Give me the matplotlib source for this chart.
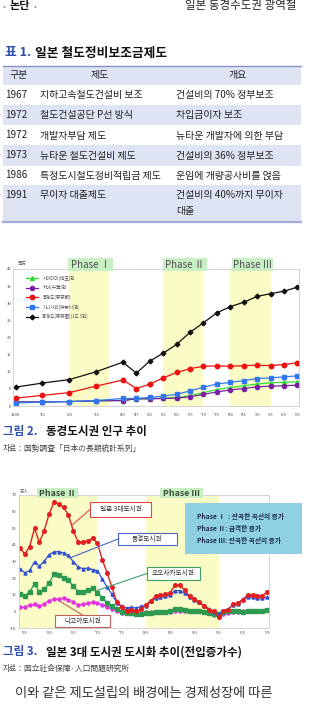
import matplotlib.pyplot as plt
from matplotlib.patches import Rectangle, ConnectionPatch
from matplotlib.lines import Line2D

plt.rcParams['font.family'] = ['Noto Sans CJK KR', 'DejaVu Sans']

W, H = 309, 706

# ---- table 1 data
tbl_header = ['구분', '제도', '개요']
tbl_years = ['1967', '1972', '1972', '1973', '1986', '1991']
tbl_systems = ['지하고속철도건설비 보조', '철도건설공단 P선 방식', '개발자부담 제도',
               '뉴타운 철도건설비 제도', '특정도시철도정비적립금 제도', '무이자 대출제도']
tbl_summary = ['건설비의 70% 정부보조', '차입금이자 보조', '뉴타운 개발자에 의한 부담',
               '건설비의 36% 정부보조', '운임에 개량공사비를 얹음', '건설비의 40%까지 무이자']
tbl_summary_cont = '대출'

# ---- figure 2 data (population, millions)
pop_ticks = ['1900', "'10", "'20", "'30", "'40", "'47", "'50", "'55", "'60", "'65",
             "'70", "'75", "'80", "'85", "'90", "'95", "'00", "'05"]
pop_slots = [0, 2, 4, 6, 8, 9, 10, 11, 12, 13, 14, 15, 16, 17, 18, 19, 20, 21]
pop_metro = [5.5, 6.7, 7.7, 10.0, 12.8, 9.6, 13.1, 15.4, 18.0, 21.5, 24.3, 27.2, 29.0, 30.3, 32.0, 32.8, 33.5, 34.7]
pop_tokyo = [2.3, 3.1, 3.9, 5.8, 7.6, 5.1, 6.4, 8.2, 9.8, 10.9, 11.6, 11.7, 11.6, 11.8, 11.9, 11.8, 12.1, 12.6]
pop_kanagawa = [0.9, 1.1, 1.3, 1.6, 2.2, 2.2, 2.5, 2.9, 3.4, 4.4, 5.5, 6.4, 6.9, 7.4, 8.0, 8.2, 8.5, 8.8]
pop_saitama = [1.2, 1.2, 1.3, 1.5, 1.6, 2.1, 2.1, 2.3, 2.4, 3.0, 3.9, 4.8, 5.4, 5.9, 6.4, 6.8, 6.9, 7.1]
pop_chiba = [1.2, 1.2, 1.3, 1.5, 1.6, 2.1, 2.1, 2.2, 2.3, 2.7, 3.4, 4.1, 4.7, 5.1, 5.6, 5.8, 5.9, 6.1]
pop_legend = ['사이타마(埼玉)현', '치바(千葉)현', '동경도(東京都)', '가나가와(神奈川)현', '동경도(東京圏)(1도 3현)']
pop_phases = [(4, 7), (11, 14), (16, 19)]
pop_phase_names = ['Phase Ⅰ', 'Phase Ⅱ', 'Phase Ⅲ']

# ---- figure 3 data (net in-migration, 10k persons)
mig_years = list(range(1954, 2006))
mig_three = [38, 34.5, 39, 50, 41.5, 48.5, 58.5, 65.5, 64.7, 62.5, 58, 48.5, 41.7, 41.5, 42.5, 44, 41,
             31, 23, 14.5, 5.5, 2.5, 0.5, 1, 0, 1.5, 4, 6.5, 9, 9.8, 10.2, 11.2, 15.8, 15.8, 12.6, 9.2,
             7.2, 5.6, 3.2, 1, 0, -3.5, 0, 1, 4.5, 5, 7, 9.8, 9.8, 9.5, 9.2, 11.8]
mig_tokyo = [25.6, 23.2, 24.6, 29.8, 27.1, 30.1, 34.1, 35.7, 36, 35.1, 33.7, 29.8, 26.8, 25.7, 26.1, 25.1, 24.5,
             19.2, 14.6, 10.2, 5.2, 3.2, 2, 2.5, 2, 3, 3.5, 6, 8, 8.5, 9, 10, 12.5, 12.5, 11, 8.5,
             7, 5.5, 3.5, 1.5, -0.5, -1.5, 0.5, 1.5, 4, 4.5, 7.5, 8.5, 8.5, 8, 8, 8.5]
mig_osaka = [10.2, 9.2, 11.8, 16.6, 11.8, 13.2, 17.2, 22.2, 21.8, 19.8, 18.6, 15.2, 11.8, 11.8, 12.6, 13.8, 11.2,
             8.2, 5.2, 3.2, 1.2, -0.5, -1, -1, -1.5, -1.5, -1, -1, -0.5, -0.5, -0.5, 0, 1.5, 1.5, 1, 0.5,
             0, 0, -0.5, -1, -1.5, -1.5, -0.5, 0, 0, 0, -0.5, 0, 0, 0.5, 0.5, 1]
mig_nagoya = [2.6, 2.5, 3.8, 4.2, 3.0, 4.5, 6.5, 7.2, 7.4, 8.0, 7.0, 5.5, 4.0, 4.2, 4.8, 5.5, 5.2,
              4.0, 2.5, 1.5, 0.2, -1, -1, -1, -1, -0.8, -0.5, -0.3, -0.5, -0.5, -0.5, -0.3, 0, 0.2, 0.3, 0.3,
              0.2, 0, -0.5, -1, -2, -2.5, -1.5, -0.8, -0.5, -0.2, 0, 0.2, 0.2, 0.3, 0.5, 0.8]
mig_phases = [(1950, 1970), (1980, 1995)]
mig_ticks = list(range(1955, 2006, 5))
mig_tick_labels = ["'55", "'60", "'65", "'70", "'75", "'80", "'85", "'90", "'95", "'00", "'05"]
info_lines = ['Phase Ⅰ  : 완곡한 곡선의 증가', 'Phase Ⅱ: 급격한 증가', 'Phase Ⅲ: 완곡한 곡선의 증가']

fig = plt.figure(figsize=(W / 100, H / 100), dpi=100)


def ftext(x, y, s, **kw):
    kw.setdefault('va', 'center')
    return fig.text(x / W, 1 - y / H, s, **kw)


def frect(x0, y0, x1, y1, **kw):
    r = Rectangle((x0 / W, 1 - y1 / H), (x1 - x0) / W, (y1 - y0) / H,
                  transform=fig.transFigure, **kw)
    fig.add_artist(r)


def fline(x0, x1, y, **kw):
    fig.add_artist(Line2D([x0 / W, x1 / W], [1 - y / H] * 2, transform=fig.transFigure, **kw))


# header
ftext(3, 6, '•', color='#999999', fontsize=6)
ftext(10, 6, '논단', color='#111111', fontsize=8, weight='bold')
ftext(34, 6, '•', color='#999999', fontsize=6)
ftext(185, 6, '일본 동경수도권 광역철', color='#222222', fontsize=8.3)

# table 1
ftext(5, 53, '표 1.', color='#2f4fae', fontsize=9.2, weight='bold')
ftext(35, 53, '일본 철도정비보조금제도', color='#111111', fontsize=9.2, weight='bold')
band = '#dfe4f4'
frect(3, 66, 301, 85, fc=band, ec='none')
for y0, y1 in [(105, 125), (145, 166), (185, 222)]:
    frect(3, y0, 301, y1, fc=band, ec='none')
fline(3, 301, 65.8, color='#8790c4', lw=1.0)
fline(3, 301, 222, color='#a3abdc', lw=1.6)
ftext(19, 75, tbl_header[0], ha='center', fontsize=7.2, color='#222222')
ftext(100, 75, tbl_header[1], ha='center', fontsize=7.2, color='#222222')
ftext(238, 75, tbl_header[2], ha='center', fontsize=7.2, color='#222222')
row_y = [95, 115, 135.5, 155.5, 175.5, 195]
for y, yr, sy, sm in zip(row_y, tbl_years, tbl_systems, tbl_summary):
    ftext(5, y, yr, fontsize=7.2, color='#222222')
    ftext(40, y, sy, fontsize=7.2, color='#222222')
    ftext(176, y, sm, fontsize=7.2, color='#222222')
ftext(176, 211, tbl_summary_cont, fontsize=7.2, color='#222222')

# ---- figure 2
ax2 = fig.add_axes([13 / W, 1 - 406 / H, 286 / W, 137 / H])
for a, b in pop_phases:
    ax2.axvspan(a, b, color='#fbfbc6', lw=0, zorder=0)
l_sai, = ax2.plot(pop_slots, pop_saitama, color='#33dd33', marker='^', ms=2.8, lw=0.9)
l_chi, = ax2.plot(pop_slots, pop_chiba, color='#7a1fa0', marker='o', ms=3, lw=0.9)
l_kan, = ax2.plot(pop_slots, pop_kanagawa, color='#3377ee', marker='s', ms=2.8, lw=0.9)
l_tok, = ax2.plot(pop_slots, pop_tokyo, color='#ee1111', marker='o', ms=3.2, lw=0.9)
l_met, = ax2.plot(pop_slots, pop_metro, color='#111111', marker='D', ms=2.4, lw=0.9)
ax2.set_xlim(-0.19, 21.12)
ax2.set_ylim(0, 40)
ax2.set_xticks(pop_slots)
ax2.set_xticklabels(pop_ticks, fontsize=3.0, color='#444444')
ax2.set_yticks(range(0, 41, 5))
ax2.set_yticklabels([str(v) for v in range(0, 41, 5)], fontsize=3.0, color='#444444')
ax2.tick_params(length=0, pad=1.2)
ax2.tick_params(axis='x', pad=5)
for s in ax2.spines.values():
    s.set_color('#cccccc')
    s.set_linewidth(0.6)
leg = ax2.legend([l_sai, l_chi, l_tok, l_kan, l_met], pop_legend, loc='upper left',
                 bbox_to_anchor=(13 / 286, 0.955), frameon=False, fontsize=3.2,
                 handlelength=2.8, handletextpad=0.9, labelspacing=0.95,
                 borderpad=0, borderaxespad=0)
for t in leg.get_texts():
    t.set_color('#555555')
ftext(18, 263, '百万', fontsize=3.2, color='#555555')
for (x0, x1), name in zip([(68, 113), (163, 207), (232, 273)], pop_phase_names):
    frect(x0, 258, x1, 271, fc='#c9efc4', ec='none', zorder=5)
    ftext((x0 + x1) / 2, 264.5, name, ha='center', fontsize=7, color='#505050', zorder=6)

ftext(3, 432, '그림 2.', color='#2f4fae', fontsize=8.3, weight='bold')
ftext(46, 432, '동경도시권 인구 추이', color='#111111', fontsize=8.3, weight='bold')
ftext(3, 449, '자료：国勢調査「日本の長期統計系列」', color='#444444', fontsize=5.6)

# ---- figure 3
ax3 = fig.add_axes([19 / W, 1 - 628 / H, 249.5 / W, 133 / H])
for a, b in mig_phases:
    ax3.axvspan(a, b, color='#fbfbc6', lw=0, zorder=0)
ax3.plot(mig_years, mig_nagoya, color='#e030e0', marker='o', ms=2.2, lw=0.9)
ax3.plot(mig_years, mig_osaka, color='#2e9a50', marker='s', ms=2.2, lw=0.9)
ax3.plot(mig_years, mig_tokyo, color='#3050d0', marker='^', ms=2.2, lw=0.9)
ax3.plot(mig_years, mig_three, color='#e02020', marker='o', ms=2.6, lw=1.0)
ax3.set_xlim(1953.8, 2005.3)
ax3.set_ylim(-10, 70)
ax3.set_xticks(mig_ticks)
ax3.set_xticklabels(mig_tick_labels, fontsize=3.0, color='#444444')
ax3.set_yticks(range(-10, 71, 10))
ax3.set_yticklabels([str(v) for v in range(-10, 71, 10)], fontsize=3.0, color='#444444')
ax3.tick_params(length=0, pad=2)
for s in ax3.spines.values():
    s.set_color('#cccccc')
    s.set_linewidth(0.6)
ftext(20, 491, '万人', fontsize=3.2, color='#555555')
for (x0, x1), name in zip([(37, 78), (160, 203)], ['Phase Ⅱ', 'Phase Ⅲ']):
    frect(x0, 488, x1, 498, fc='#c9efc4', ec='none', zorder=5)
    ftext((x0 + x1) / 2, 493, name, ha='center', fontsize=6.3, color='#3d4d3d',
          weight='bold', zorder=6)

# callout boxes: (label, box, edge colour, data point)
callouts = [
    ('일본 3대도시권', (90, 502, 151, 517), '#e04848', (1964.8, 52)),
    ('동경도시권', (118, 533, 177, 545), '#4a64c8', (1964.2, 32)),
    ('오오사카도시권', (147, 567, 200, 580), '#3fa066', (1969.9, 12.6)),
    ('나고야도시권', (55, 615, 110, 627), '#c06060', (1962.4, 5.8)),
]
for text, (x0, y0, x1, y1), ec, (xd, yd) in callouts:
    bx = x0 if xd < 1970.5 and x0 > 80 else (x0 + x1) / 2
    by = (y0 + y1) / 2 if x0 > 80 else y0
    cp = ConnectionPatch(xyA=(xd, yd), coordsA=ax3.transData, xyB=(bx, H - by),
                         coordsB='figure pixels', color=ec, lw=0.8, zorder=6)
    fig.add_artist(cp)
    frect(x0, y0, x1, y1, fc='white', ec=ec, lw=0.8, zorder=7)
    ftext((x0 + x1) / 2, (y0 + y1) / 2, text, ha='center', fontsize=4.8,
          color='#333333', zorder=8)

frect(185, 503, 302, 554, fc='#8fd0e4', ec='none', zorder=7)
for y, s in zip([516, 529, 541], info_lines):
    ftext(197, y, s, fontsize=4.8, color='#1c2a4a', weight='bold', zorder=8)

ftext(3, 652, '그림 3.', color='#2f4fae', fontsize=8.3, weight='bold')
ftext(46, 652, '일본 3대 도시권 도시화 추이(전입증가수)', color='#111111', fontsize=8.3, weight='bold')
ftext(3, 669, '자료：国立社会保障·人口問題研究所', color='#444444', fontsize=5.6)

ftext(15, 693, '이와 같은 제도설립의 배경에는 경제성장에 따른', color='#333333', fontsize=9.5)

fig.savefig('out.png', dpi=100)
